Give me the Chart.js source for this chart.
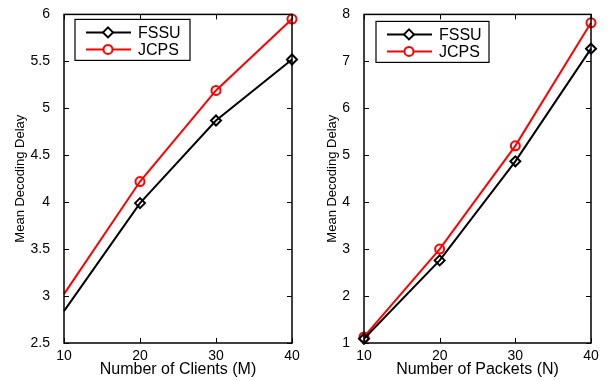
<!DOCTYPE html>
<html>
<head>
<meta charset="utf-8">
<script src="https://cdn.jsdelivr.net/npm/chart.js@4/dist/chart.umd.min.js"></script>
<style>
  body { margin: 0; background: #fff; }
  .wrap { display: flex; width: 613px; height: 381px; }
  .box1 { width: 305px; height: 381px; position: relative; }
  .box2 { width: 308px; height: 381px; position: relative; }
</style>
</head>
<body>
<div class="wrap">
  <div class="box1"><canvas id="chart1"></canvas></div>
  <div class="box2"><canvas id="chart2"></canvas></div>
</div>
<script>
const xTicks = [10, 20, 30, 40];

// left plot: delay vs number of clients
const clientsFSSU = [2.84, 3.99, 4.87, 5.52];
const clientsJCPS = [3.02, 4.22, 5.19, 5.95];
const clientsYTicks = [2.5, 3, 3.5, 4, 4.5, 5, 5.5, 6];

// right plot: delay vs number of packets
const packetsFSSU = [1.09, 2.76, 4.87, 7.27];
const packetsJCPS = [1.13, 3.0, 5.2, 7.82];
const packetsYTicks = [1, 2, 3, 4, 5, 6, 7, 8];

const font = "'Liberation Sans', Arial, sans-serif";

// matlab style box, inward ticks and legend inside the axes
const matlabBox = {
  id: "matlabBox",
  afterDraw(chart, args, opts) {
    const ctx = chart.ctx;
    const a = chart.chartArea;
    const xs = chart.scales.x;
    const ys = chart.scales.y;
    ctx.save();
    ctx.strokeStyle = "#000";
    ctx.lineWidth = 1;
    ctx.beginPath();
    xTicks.forEach(v => {
      const px = Math.round(xs.getPixelForValue(v)) + 0.5;
      ctx.moveTo(px, a.bottom); ctx.lineTo(px, a.bottom - 5);
      ctx.moveTo(px, a.top); ctx.lineTo(px, a.top + 5);
    });
    opts.yTicks.forEach(v => {
      const py = Math.round(ys.getPixelForValue(v)) + 0.5;
      ctx.moveTo(a.left, py); ctx.lineTo(a.left + 5, py);
      ctx.moveTo(a.right, py); ctx.lineTo(a.right - 5, py);
    });
    ctx.stroke();
    ctx.lineWidth = 1.5;
    ctx.strokeRect(a.left, a.top, a.right - a.left, a.bottom - a.top);

    // legend
    const lx = a.left + opts.legendX;
    const ly = a.top + opts.legendY;
    ctx.fillStyle = "#fff";
    ctx.fillRect(lx, ly, opts.legendW, 41);
    ctx.lineWidth = 1.2;
    ctx.strokeRect(lx, ly, opts.legendW, 41);
    ctx.font = "16px " + font;
    ctx.textBaseline = "middle";
    chart.data.datasets.forEach((ds, i) => {
      const cy = ly + 13 + i * 17;
      ctx.strokeStyle = ds.borderColor;
      ctx.lineWidth = 2;
      ctx.beginPath();
      ctx.moveTo(lx + 11, cy);
      ctx.lineTo(lx + 56, cy);
      ctx.stroke();
      ctx.beginPath();
      if (ds.pointStyle === "rectRot") {
        ctx.moveTo(lx + 33, cy - 5);
        ctx.lineTo(lx + 38, cy);
        ctx.lineTo(lx + 33, cy + 5);
        ctx.lineTo(lx + 28, cy);
        ctx.closePath();
      } else {
        ctx.arc(lx + 33, cy, 4.5, 0, Math.PI * 2);
      }
      ctx.fillStyle = "#fff";
      ctx.fill();
      ctx.stroke();
      ctx.fillStyle = "#000";
      ctx.fillText(ds.label, lx + 63, cy + 1);
    });
    ctx.restore();
  }
};

function makeChart(id, fssu, jcps, yTicks, xTitle, pad, yWidth, titlePad, legend) {
  const ctx = document.getElementById(id);
  return new Chart(ctx, {
    type: "line",
    data: {
      datasets: [{
        label: "FSSU",
        data: xTicks.map((x, i) => ({ x: x, y: fssu[i] })),
        borderColor: "#000",
        backgroundColor: "rgba(0,0,0,0)",
        borderWidth: 2,
        pointStyle: "rectRot",
        pointRadius: legend.hideFirst ? [0, 5, 5, 5] : 5,
        pointBorderWidth: 2,
        clip: false
      }, {
        label: "JCPS",
        data: xTicks.map((x, i) => ({ x: x, y: jcps[i] })),
        borderColor: "#ff0000",
        backgroundColor: "rgba(0,0,0,0)",
        borderWidth: 2,
        pointStyle: "circle",
        pointRadius: legend.hideFirst ? [0, 4.5, 4.5, 4.5] : 4.5,
        pointBorderWidth: 2,
        clip: false
      }]
    },
    options: {
      responsive: true,
      maintainAspectRatio: false,
      animation: false,
      layout: { padding: pad },
      plugins: {
        legend: { display: false },
        tooltip: { enabled: false },
        matlabBox: {
          yTicks: yTicks,
          legendX: legend.x,
          legendY: legend.y,
          legendW: legend.w
        }
      },
      scales: {
        x: {
          type: "linear",
          min: 10,
          max: 40,
          grid: { display: false },
          border: { display: false },
          afterBuildTicks: s => { s.ticks = xTicks.map(v => ({ value: v })); },
          afterFit: s => { s.height = 38; },
          ticks: { color: "#000", font: { family: font, size: 14 }, padding: -3, maxRotation: 0 },
          title: {
            display: true,
            text: xTitle,
            color: "#000",
            font: { family: font, size: 16 },
            padding: { top: 0, bottom: 2 }
          }
        },
        y: {
          min: yTicks[0],
          max: yTicks[yTicks.length - 1],
          grid: { display: false },
          border: { display: false },
          afterBuildTicks: s => { s.ticks = yTicks.map(v => ({ value: v })); },
          afterFit: s => { s.width = yWidth; },
          ticks: {
            color: "#000",
            font: { family: font, size: 14 },
            padding: 6,
            callback: v => String(v)
          },
          title: {
            display: true,
            text: "Mean Decoding Delay",
            color: "#000",
            font: { family: font, size: 13 },
            padding: { top: titlePad, bottom: 0 }
          }
        }
      }
    },
    plugins: [matlabBox]
  });
}

makeChart("chart1", clientsFSSU, clientsJCPS, clientsYTicks, "Number of Clients (M)",
  { top: 12, right: 13, left: 0, bottom: 0 }, 64, 13, { x: 11, y: 5, w: 115, hideFirst: true });
makeChart("chart2", packetsFSSU, packetsJCPS, packetsYTicks, "Number of Packets (N)",
  { top: 12, right: 22, left: 0, bottom: 0 }, 59, 20, { x: 12, y: 7, w: 113, hideFirst: false });
</script>
</body>
</html>
